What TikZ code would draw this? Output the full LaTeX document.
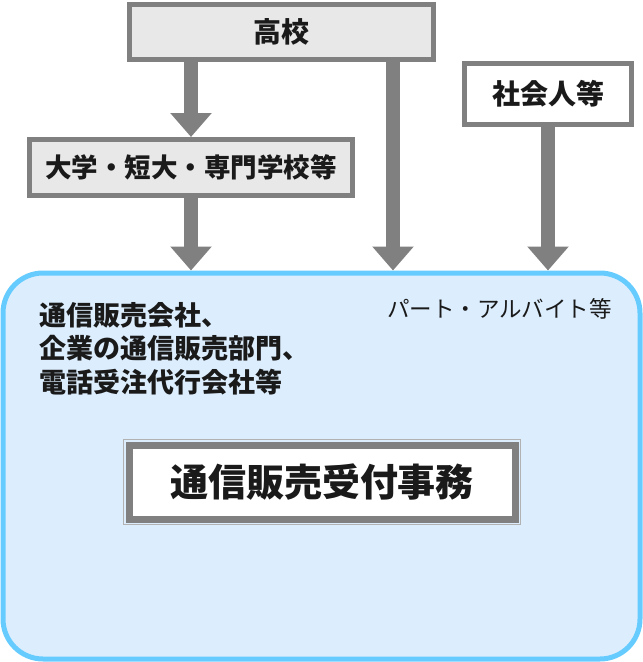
\documentclass[tikz,border=0pt]{standalone}
\usepackage{fontspec}
\setmainfont{Noto Sans CJK JP}
\usetikzlibrary{arrows.meta}
\definecolor{boxgray}{HTML}{808080}
\definecolor{lightfill}{HTML}{E8E8E8}
\definecolor{bluefill}{HTML}{DCEDFD}
\definecolor{blueline}{HTML}{66CCFF}
\definecolor{txt}{HTML}{1A1A1A}
\tikzset{
  srcbox/.style={draw=boxgray, line width=5pt, fill=lightfill, inner sep=0pt, text=txt,
    font=\fontsize{28}{32}\selectfont\bfseries},
  whitebox/.style={srcbox, fill=white},
  flow/.style={draw=boxgray, line width=14pt, -{Triangle[width=40pt,length=24pt]}},
}
\begin{document}
\begin{tikzpicture}[x=1pt,y=-1pt]
\useasboundingbox (0,0) rectangle (643,662);
% big rounded area
\node[draw=blueline, line width=5pt, fill=bluefill, rounded corners=40pt,
  minimum width=637pt, minimum height=386pt, inner sep=0pt] (area) at (321.5,466) {};
% source boxes
\node[srcbox, minimum width=304pt, minimum height=55pt] (hs) at (281,31.5) {高校};
\node[srcbox, minimum width=323pt, minimum height=56pt, font=\fontsize{26.5}{30}\selectfont\bfseries]
  (dai) at (191,167.5) {大学・短大・専門学校等};
\node[whitebox, minimum width=167pt, minimum height=61pt] (soc) at (548,94) {社会人等};
% arrows
\coordinate (hsR) at (393,31.5);
\draw[flow] (hs.south -| dai) -- (dai.north);
\draw[flow] (dai.south) -- (dai.south |- area.north);
\draw[flow] (hs.south -| hsR) -- (hsR |- area.north);
\draw[flow] (soc.south) -- (soc.south |- area.north);
% texts in the area
\node[anchor=north west, align=left, inner sep=0pt, text=txt,
  font=\fontsize{27}{33.5}\selectfont\bfseries] (emp) at (39,302)
  {通信販売会社、\\企業の通信販売部門、\\電話受注代行会社等};
\node[anchor=north east, inner sep=0pt, text=txt,
  font=\fontsize{22.5}{26}\selectfont] (part) at (612,298) {パート・アルバイト等};
% central job box
\node[draw=gray!60, line width=1pt, minimum width=397pt, minimum height=85pt, inner sep=0pt]
  (jobout) at (321.5,481.5) {};
\node[draw=boxgray, line width=7pt, fill=white, minimum width=386pt, minimum height=73.5pt,
  inner sep=0pt, text=txt, font=\fontsize{38}{42}\selectfont\bfseries] (job) at (322,482.25) {通信販売受付事務};
\end{tikzpicture}
\end{document}
